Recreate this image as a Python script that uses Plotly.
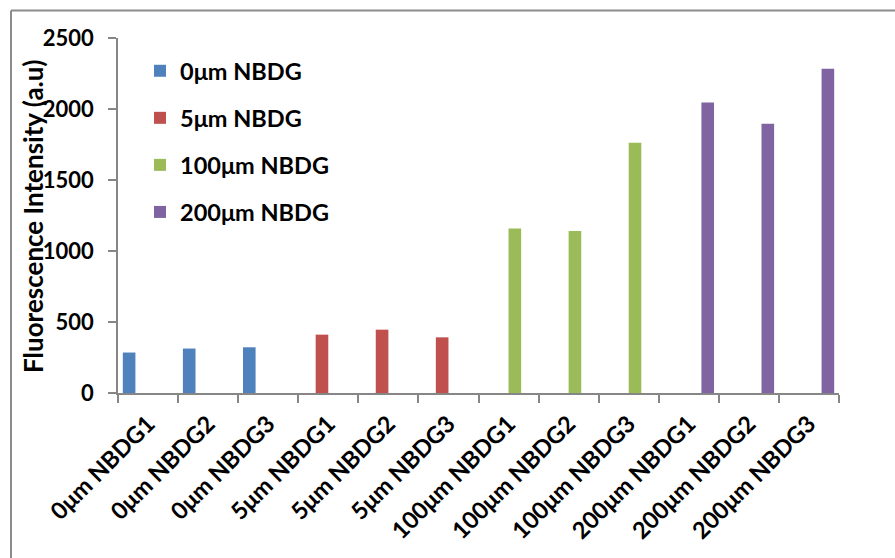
import plotly.graph_objects as go

categories = ["0μm NBDG1", "0μm NBDG2", "0μm NBDG3",
              "5μm NBDG1", "5μm NBDG2", "5μm NBDG3",
              "100μm NBDG1", "100μm NBDG2", "100μm NBDG3",
              "200μm NBDG1", "200μm NBDG2", "200μm NBDG3"]
series_names = ["0μm NBDG", "5μm NBDG", "100μm NBDG", "200μm NBDG"]
values_0 = [285, 313, 322]
values_5 = [411, 446, 392]
values_100 = [1158, 1141, 1763]
values_200 = [2045, 1897, 2284]
colors = ["#4F81BD", "#C0504D", "#9BBB59", "#8064A2"]

series_values = [values_0, values_5, values_100, values_200]

FONT = "Lato"
fig = go.Figure()
for i, (name, vals) in enumerate(zip(series_names, series_values)):
    cats = categories[3 * i:3 * i + 3]
    fig.add_trace(go.Bar(
        x=cats, y=vals, name=name, marker_color=colors[i],
        marker_line_width=0, legendgroup=name,
        offsetgroup=str(i),
    ))

W, H = 895, 558
L, R, T, B = 118, 56, 38, 165
pw = W - L - R
ph = H - T - B

def px(x):
    return (x - L) / pw

def py(y):
    return 1 - (y - T) / ph

fig.update_layout(
    width=W, height=H,
    margin=dict(l=L, r=R, t=T, b=B, autoexpand=False),
    paper_bgcolor="white", plot_bgcolor="white",
    barmode="group", bargap=0.16, bargroupgap=0,
    font=dict(family=FONT, size=22, color="black", weight="bold"),
    showlegend=True,
    legend=dict(x=px(140), y=py(49), xanchor="left", yanchor="top",
                bgcolor="rgba(0,0,0,0)", font=dict(size=23.5, family=FONT, weight="bold"),
                tracegroupgap=13.5, traceorder="grouped", itemclick=False),
)
fig.update_xaxes(
    categoryorder="array", categoryarray=categories,
    tickangle=-45, tickson="boundaries", ticks="outside", ticklen=8,
    tickcolor="#868686", tickwidth=1.5, ticklabelstandoff=6,
    showline=True, linecolor="#868686", linewidth=1.5,
    showgrid=False, zeroline=False,
    tickfont=dict(family=FONT, size=23.5, weight="bold"),
)
fig.update_yaxes(
    range=[0, 2500], dtick=500, tick0=0,
    ticks="outside", ticklen=8, tickcolor="#868686", tickwidth=1.5,
    ticklabelstandoff=10,
    showline=True, linecolor="#868686", linewidth=1.5,
    showgrid=False, zeroline=False,
    tickfont=dict(family=FONT, size=22, weight="bold"),
)
fig.add_annotation(
    text="Fluorescence Intensity (a.u)", xref="paper", yref="paper",
    x=px(33), y=py(217), xanchor="center", yanchor="middle",
    textangle=-90, showarrow=False,
    font=dict(family=FONT, size=26, weight="bold", color="black"),
)
# outer chart frame (left and top edges visible)
fig.add_shape(type="line", xref="paper", yref="paper",
              x0=px(11), x1=px(11), y0=py(10.5), y1=py(560),
              line=dict(color="#8C8C8C", width=2))
fig.add_shape(type="line", xref="paper", yref="paper",
              x0=px(11), x1=px(900), y0=py(10.5), y1=py(10.5),
              line=dict(color="#8C8C8C", width=2))

fig.write_html("out.html", config={"displayModeBar": False},
               post_script="document.body.style.margin='0';")
